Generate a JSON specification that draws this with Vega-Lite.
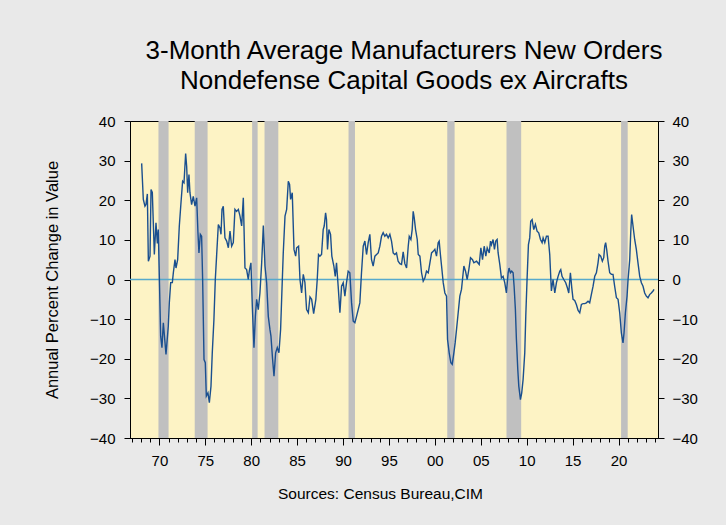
{
  "$schema": "https://vega.github.io/schema/vega-lite/v6.json",
  "width": 528,
  "height": 317,
  "autosize": {"type": "none"},
  "padding": {"left": 130, "top": 121, "right": 68, "bottom": 87},
  "background": "#e9e9e9",
  "config": {
    "view": {"stroke": "#000000", "strokeWidth": 1, "fill": "#fdf3c5"},
    "font": "Liberation Sans",
    "axis": {"domainColor": "#000000", "tickColor": "#000000", "labelColor": "#000000", "titleColor": "#000000", "grid": false, "labelFont": "Liberation Sans", "titleFont": "Liberation Sans"}
  },
  "title": {
    "text": ["3-Month Average Manufacturers New Orders", "\u2002\u2002Nondefense Capital Goods ex Aircrafts"],
    "fontSize": 26, "fontWeight": "normal", "lineHeight": 30, "anchor": "middle", "frame": "group", "dx": 10, "offset": 20, "color": "#000000", "font": "Liberation Sans"
  },
  "datasets": {
    "recessions": [
      {"start": 1969.9, "end": 1971.0},
      {"start": 1973.85, "end": 1975.25},
      {"start": 1980.1, "end": 1980.7},
      {"start": 1981.45, "end": 1982.95},
      {"start": 1990.6, "end": 1991.3},
      {"start": 2001.35, "end": 2002.15},
      {"start": 2007.8, "end": 2009.4},
      {"start": 2020.28, "end": 2021.0}
    ],
    "series": [
      {"year": 1968.07, "pct": 29.3}, {"year": 1968.25, "pct": 20.2}, {"year": 1968.43, "pct": 18.5}, {"year": 1968.54, "pct": 18.9}, {"year": 1968.69, "pct": 21.6}, {"year": 1968.8, "pct": 4.6}, {"year": 1968.98, "pct": 5.9}, {"year": 1969.09, "pct": 22.7}, {"year": 1969.23, "pct": 22.0}, {"year": 1969.45, "pct": 6.3}, {"year": 1969.63, "pct": 14.3}, {"year": 1969.78, "pct": 9.1}, {"year": 1969.88, "pct": 12.6},
      {"year": 1970.14, "pct": -14.3}, {"year": 1970.28, "pct": -17.2}, {"year": 1970.43, "pct": -10.9}, {"year": 1970.72, "pct": -18.9}, {"year": 1970.97, "pct": -11.8}, {"year": 1971.08, "pct": -5.9}, {"year": 1971.23, "pct": -0.8}, {"year": 1971.41, "pct": -0.8}, {"year": 1971.52, "pct": 1.7}, {"year": 1971.7, "pct": 5.0}, {"year": 1971.81, "pct": 2.9}, {"year": 1971.99, "pct": 5.0},
      {"year": 1972.17, "pct": 13.5}, {"year": 1972.35, "pct": 19.3}, {"year": 1972.53, "pct": 24.8}, {"year": 1972.68, "pct": 24.4}, {"year": 1972.86, "pct": 31.8}, {"year": 1972.97, "pct": 28.6}, {"year": 1973.08, "pct": 21.9}, {"year": 1973.22, "pct": 26.5}, {"year": 1973.33, "pct": 21.9}, {"year": 1973.51, "pct": 18.9}, {"year": 1973.69, "pct": 21.0}, {"year": 1973.88, "pct": 18.5},
      {"year": 1974.06, "pct": 20.6}, {"year": 1974.2, "pct": 11.8}, {"year": 1974.31, "pct": 6.7}, {"year": 1974.46, "pct": 11.4}, {"year": 1974.6, "pct": 10.9}, {"year": 1974.71, "pct": 0}, {"year": 1974.86, "pct": -20.2}, {"year": 1975.0, "pct": -21.0}, {"year": 1975.11, "pct": -29.4}, {"year": 1975.29, "pct": -28.6}, {"year": 1975.44, "pct": -31.1}, {"year": 1975.62, "pct": -26.9}, {"year": 1975.76, "pct": -18.5}, {"year": 1975.94, "pct": -10.1},
      {"year": 1976.09, "pct": 0}, {"year": 1976.23, "pct": 5.9}, {"year": 1976.42, "pct": 13.9}, {"year": 1976.6, "pct": 13.0}, {"year": 1976.71, "pct": 11.4}, {"year": 1976.82, "pct": 17.7}, {"year": 1976.96, "pct": 18.5}, {"year": 1977.14, "pct": 10.5}, {"year": 1977.33, "pct": 9.7}, {"year": 1977.51, "pct": 8.0}, {"year": 1977.69, "pct": 12.2}, {"year": 1977.87, "pct": 8.4},
      {"year": 1978.05, "pct": 9.3}, {"year": 1978.23, "pct": 17.7}, {"year": 1978.41, "pct": 17.2}, {"year": 1978.6, "pct": 17.7}, {"year": 1978.78, "pct": 16.0}, {"year": 1978.96, "pct": 13.5}, {"year": 1979.14, "pct": 20.6}, {"year": 1979.32, "pct": 2.9}, {"year": 1979.5, "pct": 2.5}, {"year": 1979.68, "pct": 0}, {"year": 1979.79, "pct": 2.1}, {"year": 1979.97, "pct": 4.2},
      {"year": 1980.12, "pct": -6.7}, {"year": 1980.3, "pct": -17.2}, {"year": 1980.45, "pct": -9.3}, {"year": 1980.59, "pct": -5.0}, {"year": 1980.77, "pct": -7.6}, {"year": 1980.95, "pct": -3.4}, {"year": 1981.14, "pct": 4.2}, {"year": 1981.32, "pct": 13.6}, {"year": 1981.5, "pct": 3.4}, {"year": 1981.68, "pct": -0.8}, {"year": 1981.86, "pct": -9.3},
      {"year": 1982.04, "pct": -12.6}, {"year": 1982.15, "pct": -14.3}, {"year": 1982.33, "pct": -20.2}, {"year": 1982.48, "pct": -24.4}, {"year": 1982.66, "pct": -18.5}, {"year": 1982.84, "pct": -17.2}, {"year": 1983.02, "pct": -18.5}, {"year": 1983.2, "pct": -12.6}, {"year": 1983.35, "pct": -2.5}, {"year": 1983.49, "pct": 6.7}, {"year": 1983.68, "pct": 16.0}, {"year": 1983.86, "pct": 17.7},
      {"year": 1984.04, "pct": 24.8}, {"year": 1984.18, "pct": 24.0}, {"year": 1984.29, "pct": 20.2}, {"year": 1984.47, "pct": 21.9}, {"year": 1984.66, "pct": 7.6}, {"year": 1984.84, "pct": 5.9}, {"year": 1984.95, "pct": 8.0}, {"year": 1985.16, "pct": 8.4}, {"year": 1985.31, "pct": 0}, {"year": 1985.49, "pct": -3.4}, {"year": 1985.67, "pct": 1.3}, {"year": 1985.85, "pct": -0.8},
      {"year": 1986.03, "pct": -7.6}, {"year": 1986.22, "pct": -8.4}, {"year": 1986.4, "pct": -4.4}, {"year": 1986.58, "pct": -5.0}, {"year": 1986.8, "pct": -8.6}, {"year": 1987.04, "pct": -5.0}, {"year": 1987.19, "pct": 0}, {"year": 1987.33, "pct": 6.3}, {"year": 1987.48, "pct": 5.9}, {"year": 1987.66, "pct": 6.3}, {"year": 1987.84, "pct": 12.6}, {"year": 1987.95, "pct": 13.5},
      {"year": 1988.1, "pct": 16.8}, {"year": 1988.2, "pct": 15.1}, {"year": 1988.31, "pct": 7.6}, {"year": 1988.46, "pct": 12.6}, {"year": 1988.64, "pct": 11.4}, {"year": 1988.78, "pct": 5.9}, {"year": 1989.0, "pct": 3.4}, {"year": 1989.15, "pct": 0.8}, {"year": 1989.29, "pct": 4.2}, {"year": 1989.47, "pct": -1.7}, {"year": 1989.66, "pct": -8.4}, {"year": 1989.84, "pct": -1.7},
      {"year": 1990.02, "pct": -0.8}, {"year": 1990.2, "pct": -4.2}, {"year": 1990.38, "pct": -0.8}, {"year": 1990.56, "pct": 2.1}, {"year": 1990.74, "pct": 1.7}, {"year": 1990.93, "pct": -5.9}, {"year": 1991.11, "pct": -10.5}, {"year": 1991.29, "pct": -10.9}, {"year": 1991.47, "pct": -9.3}, {"year": 1991.65, "pct": -7.6}, {"year": 1991.83, "pct": -5.9},
      {"year": 1992.01, "pct": 1.7}, {"year": 1992.2, "pct": 8.4}, {"year": 1992.38, "pct": 9.7}, {"year": 1992.56, "pct": 6.3}, {"year": 1992.74, "pct": 9.3}, {"year": 1992.92, "pct": 11.4}, {"year": 1993.1, "pct": 5.0}, {"year": 1993.28, "pct": 3.4}, {"year": 1993.47, "pct": 5.9}, {"year": 1993.65, "pct": 6.3}, {"year": 1993.83, "pct": 6.7},
      {"year": 1994.01, "pct": 8.4}, {"year": 1994.19, "pct": 10.9}, {"year": 1994.37, "pct": 11.8}, {"year": 1994.55, "pct": 10.9}, {"year": 1994.73, "pct": 11.4}, {"year": 1994.92, "pct": 10.5}, {"year": 1995.1, "pct": 11.4}, {"year": 1995.28, "pct": 9.7}, {"year": 1995.46, "pct": 6.7}, {"year": 1995.64, "pct": 6.3}, {"year": 1995.82, "pct": 6.7},
      {"year": 1996.0, "pct": 4.6}, {"year": 1996.19, "pct": 4.0}, {"year": 1996.37, "pct": 3.8}, {"year": 1996.55, "pct": 7.0}, {"year": 1996.73, "pct": 4.0}, {"year": 1996.92, "pct": 2.9}, {"year": 1997.1, "pct": 8.4}, {"year": 1997.21, "pct": 10.9}, {"year": 1997.39, "pct": 10.1}, {"year": 1997.53, "pct": 12.6}, {"year": 1997.64, "pct": 17.2}, {"year": 1997.75, "pct": 15.6}, {"year": 1997.9, "pct": 12.6},
      {"year": 1998.08, "pct": 10.1}, {"year": 1998.19, "pct": 6.3}, {"year": 1998.37, "pct": 5.9}, {"year": 1998.55, "pct": 1.7}, {"year": 1998.73, "pct": -0.4}, {"year": 1998.91, "pct": 0.4}, {"year": 1999.09, "pct": 2.1}, {"year": 1999.28, "pct": 1.7}, {"year": 1999.46, "pct": 4.2}, {"year": 1999.64, "pct": 6.7}, {"year": 1999.82, "pct": 7.1},
      {"year": 2000.0, "pct": 7.6}, {"year": 2000.18, "pct": 5.9}, {"year": 2000.36, "pct": 9.3}, {"year": 2000.47, "pct": 9.7}, {"year": 2000.62, "pct": 5.9}, {"year": 2000.73, "pct": 3.4}, {"year": 2000.91, "pct": -0.8}, {"year": 2001.09, "pct": -3.4}, {"year": 2001.27, "pct": -4.2}, {"year": 2001.38, "pct": -15.1}, {"year": 2001.56, "pct": -18.5}, {"year": 2001.74, "pct": -21.0}, {"year": 2001.89, "pct": -21.4},
      {"year": 2002.07, "pct": -18.5}, {"year": 2002.21, "pct": -16.0}, {"year": 2002.36, "pct": -12.6}, {"year": 2002.54, "pct": -8.4}, {"year": 2002.72, "pct": -4.2}, {"year": 2002.9, "pct": -2.5}, {"year": 2003.01, "pct": 0}, {"year": 2003.16, "pct": 3.4}, {"year": 2003.34, "pct": 2.1}, {"year": 2003.52, "pct": 0}, {"year": 2003.7, "pct": 2.5}, {"year": 2003.88, "pct": 5.5},
      {"year": 2004.1, "pct": 5.0}, {"year": 2004.25, "pct": 4.2}, {"year": 2004.54, "pct": 4.6}, {"year": 2004.83, "pct": 3.8}, {"year": 2005.01, "pct": 8.0}, {"year": 2005.19, "pct": 5.0}, {"year": 2005.37, "pct": 8.4}, {"year": 2005.55, "pct": 5.9}, {"year": 2005.7, "pct": 8.0}, {"year": 2005.92, "pct": 6.7},
      {"year": 2006.06, "pct": 9.7}, {"year": 2006.16, "pct": 8.8}, {"year": 2006.34, "pct": 10.1}, {"year": 2006.49, "pct": 7.6}, {"year": 2006.63, "pct": 9.7}, {"year": 2006.78, "pct": 10.1}, {"year": 2006.89, "pct": 6.7}, {"year": 2007.07, "pct": 3.8}, {"year": 2007.25, "pct": 0.4}, {"year": 2007.43, "pct": 0.8}, {"year": 2007.61, "pct": -0.8}, {"year": 2007.79, "pct": -3.4}, {"year": 2007.98, "pct": 1.7},
      {"year": 2008.08, "pct": 2.9}, {"year": 2008.23, "pct": 1.7}, {"year": 2008.37, "pct": 2.1}, {"year": 2008.52, "pct": 1.7}, {"year": 2008.63, "pct": -1.7}, {"year": 2008.77, "pct": -7.6}, {"year": 2008.88, "pct": -15.1}, {"year": 2009.03, "pct": -22.7}, {"year": 2009.14, "pct": -26.9}, {"year": 2009.32, "pct": -30.3}, {"year": 2009.46, "pct": -28.6}, {"year": 2009.61, "pct": -25.2}, {"year": 2009.79, "pct": -18.5}, {"year": 2009.9, "pct": -9.3},
      {"year": 2010.04, "pct": 0}, {"year": 2010.19, "pct": 8.8}, {"year": 2010.33, "pct": 10.5}, {"year": 2010.44, "pct": 14.7}, {"year": 2010.59, "pct": 15.1}, {"year": 2010.77, "pct": 12.6}, {"year": 2010.95, "pct": 13.9}, {"year": 2011.13, "pct": 12.2}, {"year": 2011.31, "pct": 11.8}, {"year": 2011.5, "pct": 10.1}, {"year": 2011.68, "pct": 9.3}, {"year": 2011.79, "pct": 10.5}, {"year": 2011.97, "pct": 9.3},
      {"year": 2012.15, "pct": 10.9}, {"year": 2012.33, "pct": 10.9}, {"year": 2012.51, "pct": 6.3}, {"year": 2012.69, "pct": -2.9}, {"year": 2012.87, "pct": 0}, {"year": 2013.06, "pct": -3.4}, {"year": 2013.24, "pct": -0.8}, {"year": 2013.42, "pct": 0.8}, {"year": 2013.6, "pct": 2.1}, {"year": 2013.71, "pct": 2.5}, {"year": 2013.85, "pct": 0.8},
      {"year": 2014.04, "pct": 0}, {"year": 2014.25, "pct": -0.8}, {"year": 2014.43, "pct": -2.1}, {"year": 2014.58, "pct": -3.4}, {"year": 2014.76, "pct": 1.7}, {"year": 2014.91, "pct": -2.1}, {"year": 2015.05, "pct": -5.0}, {"year": 2015.23, "pct": -5.3}, {"year": 2015.41, "pct": -6.3}, {"year": 2015.6, "pct": -7.8}, {"year": 2015.78, "pct": -8.4}, {"year": 2015.96, "pct": -6.3},
      {"year": 2016.14, "pct": -6.1}, {"year": 2016.32, "pct": -6.1}, {"year": 2016.5, "pct": -5.9}, {"year": 2016.68, "pct": -5.5}, {"year": 2016.86, "pct": -5.9}, {"year": 2017.04, "pct": -3.8}, {"year": 2017.23, "pct": -1.7}, {"year": 2017.41, "pct": 0.8}, {"year": 2017.59, "pct": 1.7}, {"year": 2017.77, "pct": 4.2}, {"year": 2017.88, "pct": 6.3},
      {"year": 2018.06, "pct": 5.9}, {"year": 2018.24, "pct": 4.6}, {"year": 2018.39, "pct": 5.5}, {"year": 2018.5, "pct": 8.4}, {"year": 2018.6, "pct": 9.3}, {"year": 2018.71, "pct": 7.6}, {"year": 2018.86, "pct": 4.6}, {"year": 2019.04, "pct": 1.7}, {"year": 2019.22, "pct": 1.3}, {"year": 2019.4, "pct": 1.3}, {"year": 2019.58, "pct": -1.7}, {"year": 2019.77, "pct": -4.6}, {"year": 2019.95, "pct": -5.0},
      {"year": 2020.13, "pct": -8.4}, {"year": 2020.31, "pct": -13.5}, {"year": 2020.49, "pct": -16.0}, {"year": 2020.6, "pct": -13.5}, {"year": 2020.75, "pct": -8.4}, {"year": 2020.93, "pct": -4.2}, {"year": 2021.04, "pct": 0}, {"year": 2021.22, "pct": 5.0}, {"year": 2021.33, "pct": 11.8}, {"year": 2021.43, "pct": 16.4}, {"year": 2021.58, "pct": 13.5}, {"year": 2021.76, "pct": 10.1}, {"year": 2021.94, "pct": 7.6},
      {"year": 2022.12, "pct": 4.2}, {"year": 2022.31, "pct": 0.8}, {"year": 2022.49, "pct": -0.8}, {"year": 2022.67, "pct": -1.7}, {"year": 2022.85, "pct": -3.4}, {"year": 2023.03, "pct": -4.2}, {"year": 2023.21, "pct": -4.6}, {"year": 2023.39, "pct": -3.8}, {"year": 2023.57, "pct": -3.4}, {"year": 2023.76, "pct": -2.9}, {"year": 2023.87, "pct": -2.5}
    ]
  },
  "layer": [
    {
      "data": {"name": "recessions"},
      "mark": {"type": "rect", "color": "#c0c0c0"},
      "encoding": {
        "x": {
          "field": "start", "type": "quantitative",
          "scale": {"domain": [1966.8, 2024.3], "nice": false, "zero": false},
          "axis": {"orient": "bottom", "values": [1967,1968,1969,1970,1971,1972,1973,1974,1975,1976,1977,1978,1979,1980,1981,1982,1983,1984,1985,1986,1987,1988,1989,1990,1991,1992,1993,1994,1995,1996,1997,1998,1999,2000,2001,2002,2003,2004,2005,2006,2007,2008,2009,2010,2011,2012,2013,2014,2015,2016,2017,2018,2019,2020,2021,2022,2023,2024], "labels": false, "domain": false, "tickSize": 4, "title": null, "grid": false}
        },
        "x2": {"field": "end"}
      }
    },
    {
      "data": {"values": [{}]},
      "mark": {"type": "rule", "color": "#56a9cc", "strokeWidth": 1.5},
      "encoding": {
        "y": {
          "datum": 0, "type": "quantitative",
          "axis": {"orient": "right", "values": [-40,-30,-20,-10,0,10,20,30,40], "tickSize": 6, "labelFontSize": 15, "labelPadding": 8, "title": null, "domain": true}
        }
      }
    },
    {
      "data": {"name": "series"},
      "mark": {"type": "line", "color": "#1a4f8f", "strokeWidth": 1.4},
      "encoding": {
        "x": {
          "field": "year", "type": "quantitative",
          "scale": {"domain": [1966.8, 2024.3], "nice": false, "zero": false},
          "axis": {"orient": "bottom", "values": [1970,1975,1980,1985,1990,1995,2000,2005,2010,2015,2020], "tickSize": 7, "labelExpr": "substring(toString(datum.value), 2, 4)", "labelFontSize": 15, "labelPadding": 8, "title": "Sources: Census Bureau,CIM", "titleFontSize": 15.5, "titleFontWeight": "normal", "titleX": 250, "titleY": 55, "titleBaseline": "middle", "titleAlign": "center"}
        },
        "y": {
          "field": "pct", "type": "quantitative",
          "scale": {"domain": [-40, 40], "nice": false},
          "axis": {"orient": "left", "values": [-40,-30,-20,-10,0,10,20,30,40], "tickSize": 6, "labelFontSize": 15, "labelPadding": 9, "title": "Annual Percent Change in Value", "titleFontSize": 16.5, "titleFontWeight": "normal", "titleX": -78, "titleY": 158.5, "titleBaseline": "middle", "titleAlign": "center"}
        }
      }
    }
  ],
  "resolve": {"axis": {"x": "independent", "y": "independent"}}
}
